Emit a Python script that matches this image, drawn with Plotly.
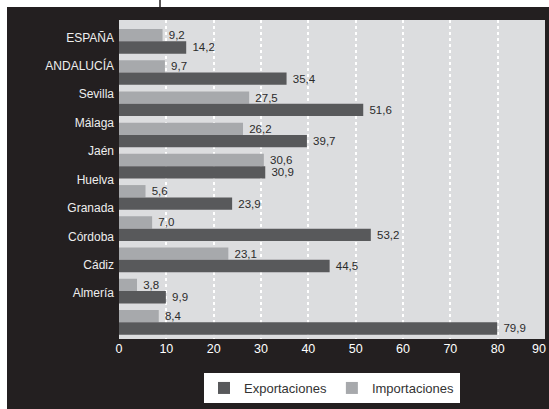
import plotly.graph_objects as go

# ---- data ----
categories = ["ESPAÑA", "ANDALUCÍA", "Sevilla", "Málaga", "Jaén",
              "Huelva", "Granada", "Córdoba", "Cádiz", "Almería"]
importaciones = [9.2, 9.7, 27.5, 26.2, 30.6, 5.6, 7.0, 23.1, 3.8, 8.4]
exportaciones = [14.2, 35.4, 51.6, 39.7, 30.9, 23.9, 53.2, 44.5, 9.9, 79.9]
x_ticks = [0, 10, 20, 30, 40, 50, 60, 70, 80, 90]

# ---- style ----
DARK = "#231f20"
PLOT_BG = "#dcdddf"
C_EXP = "#58595b"
C_IMP = "#a7a9ac"
FONT = "Liberation Sans, Arial, sans-serif"

W, H = 549, 409
ML, MR, MT, MB = 119, 4, 20, 70
PW, PH = W - ML - MR, H - MT - MB


def px2x(px):
    return (px - ML) / PW


def py2y(py):
    return (H - MB - py) / PH


group_pos = list(range(len(categories)))
# category labels in the original drift slightly from the bar groups
label_pos = [-0.128 + 0.911 * i for i in group_pos]

fig = go.Figure()
fig.add_trace(go.Bar(
    name="Importaciones", y=group_pos, x=importaciones, orientation="h",
    marker=dict(color=C_IMP, line=dict(width=0)),
    texttemplate="\u00a0%{x:.1f}", textposition="outside",
    textfont=dict(color="#2b2b2b", size=11.5, family=FONT),
    cliponaxis=False,
))
fig.add_trace(go.Bar(
    name="Exportaciones", y=group_pos, x=exportaciones, orientation="h",
    marker=dict(color=C_EXP, line=dict(width=0)),
    texttemplate="\u00a0%{x:.1f}", textposition="outside",
    textfont=dict(color="#2b2b2b", size=11.5, family=FONT),
    cliponaxis=False,
))

shapes = [
    # white strips at top and left
    dict(type="rect", xref="paper", yref="paper", x0=px2x(0), x1=px2x(W),
         y0=py2y(0), y1=py2y(7), fillcolor="white", line=dict(width=0), layer="above"),
    dict(type="rect", xref="paper", yref="paper", x0=px2x(0), x1=px2x(7),
         y0=py2y(0), y1=py2y(H), fillcolor="white", line=dict(width=0), layer="above"),
    # small vertical tick at top
    dict(type="line", xref="paper", yref="paper", x0=px2x(160), x1=px2x(160),
         y0=py2y(0), y1=py2y(7.5), line=dict(color=DARK, width=1.5), layer="above"),
]

# last x tick label drawn as annotation so it stays inside the figure
tick_text = [str(v) for v in x_ticks[:-1]] + [""]
annotations = [dict(
    x=x_ticks[-1], xref="x", y=0, yref="paper", text=str(x_ticks[-1]),
    xanchor="right", yanchor="top", xshift=3, yshift=-1, showarrow=False,
    font=dict(color="white", size=12.5, family=FONT),
)]

fig.update_layout(
    width=W, height=H,
    margin=dict(l=ML, r=MR, t=MT, b=MB, pad=0, autoexpand=False),
    paper_bgcolor=DARK, plot_bgcolor=PLOT_BG,
    separators=",.",
    barmode="group", bargap=0.21, bargroupgap=0,
    font=dict(family=FONT, color="white"),
    showlegend=True,
    legend=dict(
        orientation="h", x=0.5, xanchor="center", y=py2y(388), yanchor="middle",
        bgcolor="white", font=dict(color="#333333", size=13, family=FONT),
        traceorder="reversed", itemclick=False, itemdoubleclick=False,
    ),
    xaxis=dict(
        range=[0, 90], tickvals=x_ticks, ticktext=tick_text,
        showgrid=True, gridcolor="white", griddash="dot", gridwidth=1.5,
        zeroline=False, showline=False, ticks="",
        tickfont=dict(color="white", size=12.5, family=FONT),
        automargin=False,
        fixedrange=True,
    ),
    yaxis=dict(
        range=[9.535, -0.682], tickvals=label_pos, ticktext=categories,
        showgrid=False, zeroline=False, showline=False, ticks="",
        tickfont=dict(color="#eeeeee", size=12, family=FONT),
        ticklabelstandoff=4, automargin=False,
        fixedrange=True,
    ),
    shapes=shapes,
    annotations=annotations,
)

fig.write_html(
    "out.html",
    config={"displayModeBar": False},
    post_script="document.body.style.margin='0';document.body.style.overflow='hidden';",
)
